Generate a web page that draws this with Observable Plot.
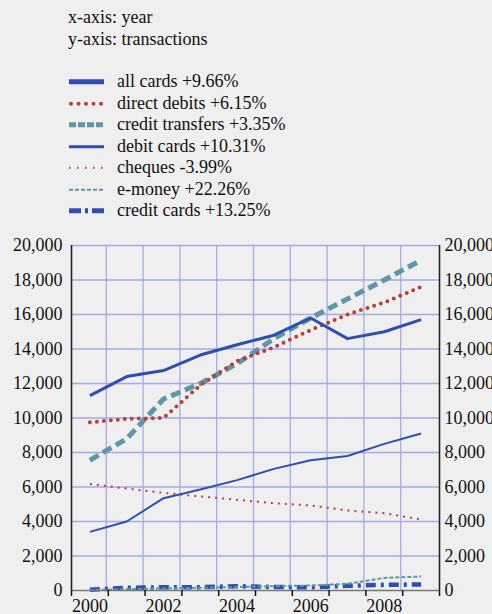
<!DOCTYPE html>
<html>
<head>
<meta charset="utf-8">
<script src="https://cdn.jsdelivr.net/npm/d3@7"></script>
<script src="https://cdn.jsdelivr.net/npm/@observablehq/plot@0.6"></script>
<style>
  html, body { margin: 0; padding: 0; width: 492px; height: 614px; overflow: hidden; background: #efefef; }
  body { position: relative; font-family: "Liberation Serif", "Times New Roman", serif; font-size: 18px; color: #111; }
  .t { position: absolute; left: 68px; line-height: 22px; white-space: nowrap; }
  .row { position: absolute; left: 69px; height: 21.5px; line-height: 21.5px; white-space: nowrap; }
  .row svg { position: absolute; left: 0; top: 0; }
  .row span { position: absolute; left: 48px; top: 0; }
  #chart { position: absolute; left: 0; top: 225px; }
</style>
</head>
<body>
<div class="t" style="top:6px">x-axis: year</div>
<div class="t" style="top:28px">y-axis: transactions</div>
<div id="legend"></div>
<div id="chart"></div>
<script>
const years = [2000, 2001, 2002, 2003, 2004, 2005, 2006, 2007, 2008, 2009];
const allCards        = [11300, 12400, 12750, 13650, 14250, 14800, 15800, 14600, 15000, 15700];
const directDebits    = [9750, 9950, 10000, 11900, 13300, 14100, 15100, 16000, 16700, 17600];
const creditTransfers = [7550, 8800, 11100, 12000, 13150, 14600, 15800, 16900, 18000, 19150];
const debitCards      = [3400, 4000, 5350, 5850, 6400, 7050, 7550, 7800, 8500, 9100];
const cheques         = [6180, 5910, 5660, 5450, 5260, 5060, 4930, 4640, 4480, 4120];
const eMoney          = [20, 80, 120, 160, 200, 250, 290, 390, 730, 810];
const creditCards     = [50, 155, 190, 190, 250, 200, 190, 270, 330, 350];

const seriesNames = ["all cards", "direct debits", "credit transfers", "debit cards", "cheques", "e-money", "credit cards"];
const growthLabels = ["+9.66%", "+6.15%", "+3.35%", "+10.31%", "-3.99%", "+22.26%", "+13.25%"];
const seriesValues = [allCards, directDebits, creditTransfers, debitCards, cheques, eMoney, creditCards];
const yTicks = [0, 2000, 4000, 6000, 8000, 10000, 12000, 14000, 16000, 18000, 20000];
const xLabelTicks = [2000, 2002, 2004, 2006, 2008];

const BLUE = "#2f4fb0", RED = "#b8403a", TEAL = "#6096a8", GRID = "#a6a9e6";
const styles = [
  {stroke: BLUE, strokeWidth: 3, dash: null, cap: "butt", lw: 5, ldash: null},
  {stroke: RED, strokeWidth: 4, dash: "0,7", cap: "round", lw: 4, ldash: "0,7.5"},
  {stroke: TEAL, strokeWidth: 5, dash: "10,5", cap: "butt", lw: 5, ldash: "7,2"},
  {stroke: BLUE, strokeWidth: 2, dash: null, cap: "butt", lw: 3, ldash: null},
  {stroke: RED, strokeWidth: 2, dash: "2,5", cap: "butt", lw: 2, ldash: "1.5,6.5"},
  {stroke: TEAL, strokeWidth: 2, dash: "4,2", cap: "butt", lw: 2, ldash: "4,2"},
  {stroke: BLUE, strokeWidth: 4.5, dash: "10,5,3,5", cap: "butt", lw: 5, ldash: "12,4,3,4"}
];

// legend
const legend = document.getElementById("legend");
seriesNames.forEach((name, i) => {
  const s = styles[i];
  const row = document.createElement("div");
  row.className = "row";
  row.style.top = (71.25 + i * 21.5) + "px";
  row.innerHTML = `<svg width="40" height="21.5"><line x1="${i===1?2:0}" x2="35" y1="10.75" y2="10.75" stroke="${s.stroke}" stroke-width="${s.lw}" ${s.ldash ? `stroke-dasharray="${s.ldash}"` : ""} stroke-linecap="${s.cap}"/></svg><span>${name} ${growthLabels[i]}</span>`;
  legend.appendChild(row);
});

const data = seriesNames.flatMap((name, i) => years.map((year, j) => ({series: name, year, value: seriesValues[i][j]})));
const boundaries = d3.range(years.length + 1).map(k => years[0] - 0.5 + k);
const interior = boundaries.slice(1, -1);
const fmt = d3.format(",");

const lineMarks = seriesNames.map((name, i) => {
  const s = styles[i];
  return Plot.line(data.filter(d => d.series === name), {
    x: "year", y: "value", stroke: s.stroke, strokeWidth: s.strokeWidth,
    strokeDasharray: s.dash || undefined, strokeLinecap: s.cap, strokeLinejoin: "round"
  });
});

const chart = Plot.plot({
  width: 492,
  height: 400,
  marginLeft: 71,
  marginRight: 53,
  marginTop: 20,
  marginBottom: 35,
  style: {background: "transparent", fontFamily: "Liberation Serif, Times New Roman, serif", fontSize: "18px", color: "#111"},
  x: {domain: [boundaries[0], boundaries[boundaries.length - 1]], label: null},
  y: {domain: [0, 20000], label: null},
  marks: [
    Plot.ruleX(interior, {stroke: GRID, strokeWidth: 1.3, dx: -2}),
    Plot.ruleY(yTicks.slice(1), {stroke: GRID, strokeWidth: 1.3}),
    ...lineMarks.slice().reverse(),
    Plot.ruleX([boundaries[0], boundaries[boundaries.length - 1]], {y1: 0, y2: 20000, stroke: "#222", strokeWidth: 1.6}),
    Plot.ruleY([0], {stroke: "#777", strokeWidth: 1.5}),
    Plot.axisY({anchor: "left", ticks: yTicks, tickSize: 0, tickPadding: 9, tickFormat: d => fmt(d), label: null}),
    Plot.axisY({anchor: "right", ticks: yTicks, tickSize: 0, tickPadding: 5, tickFormat: d => fmt(d), label: null}),
    Plot.axisX({ticks: boundaries, tickSize: 6, tickFormat: () => "", label: null, stroke: "#111", strokeWidth: 1.5}),
    Plot.axisX({ticks: xLabelTicks, tickSize: 0, tickPadding: 9, tickFormat: d => String(d), label: null})
  ]
});
document.getElementById("chart").appendChild(chart);
</script>
</body>
</html>
